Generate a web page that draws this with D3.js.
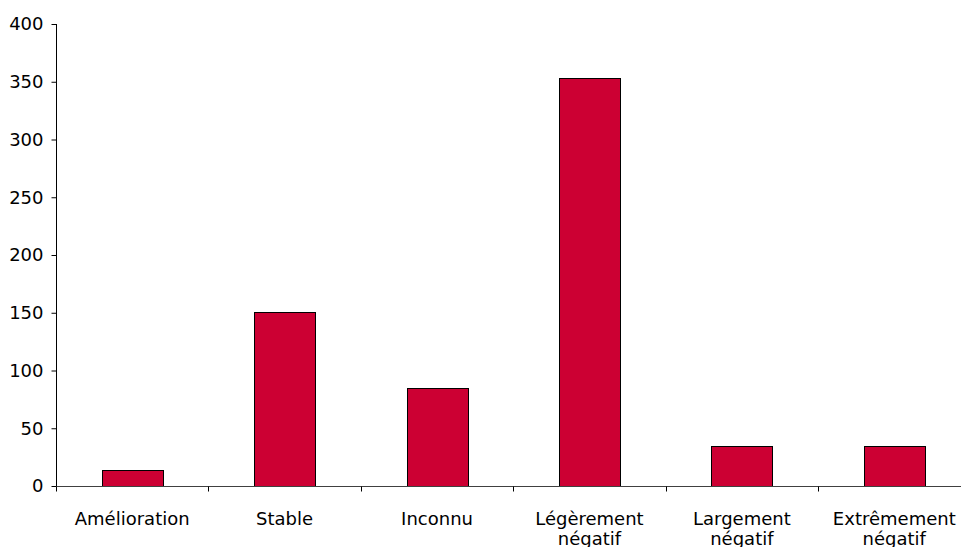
<!DOCTYPE html>
<html>
<head>
<meta charset="utf-8">
<script src="https://cdn.jsdelivr.net/npm/d3@7"></script>
<style>
  html, body { margin: 0; padding: 0; background: #fff; }
  svg { display: block; }
  text { font-family: "DejaVu Sans", Verdana, sans-serif; font-size: 18px; fill: #000; }
</style>
</head>
<body>
<svg id="chart" width="961" height="547"></svg>
<script>
// Category labels (each line as a separate entry) and counts
const categories = [
  ["Amélioration"],
  ["Stable"],
  ["Inconnu"],
  ["Légèrement", "négatif"],
  ["Largement", "négatif"],
  ["Extrêmement", "négatif"]
];
const values = [14, 151, 85, 353, 35, 35];
const yTicks = [0, 50, 100, 150, 200, 250, 300, 350, 400];

const svg = d3.select("#chart");
const plotLeft = 56, plotRight = 970.5, plotTop = 24, plotBottom = 486;

const keys = categories.map(c => c.join(" "));

const x = d3.scaleBand()
  .domain(keys)
  .range([plotLeft, plotRight])
  .paddingInner(0.6)
  .paddingOuter(0.3);

const y = d3.scaleLinear().domain([0, 400]).range([plotBottom, plotTop]);

// Bars
svg.append("g")
  .selectAll("rect")
  .data(values)
  .join("rect")
  .attr("x", (d, i) => Math.round(x(keys[i])) + 0.5)
  .attr("y", d => Math.round(y(d)) + 0.5)
  .attr("width", Math.round(x.bandwidth()))
  .attr("height", d => Math.round(y(0)) - Math.round(y(d)))
  .attr("fill", "#cc0033")
  .attr("stroke", "#000")
  .attr("stroke-width", 1);

// Y axis
const yAxis = d3.axisLeft(y)
  .tickValues(yTicks)
  .tickSize(5)
  .tickPadding(8)
  .tickFormat(d3.format("d"));

const gy = svg.append("g")
  .attr("transform", `translate(${plotLeft + 0.5},0)`)
  .call(yAxis);
gy.select(".domain").attr("stroke", "#000").attr("d", `M0,${plotTop}V${plotBottom}`);
gy.selectAll(".tick line").attr("stroke", "#000");
gy.selectAll(".tick text").style("font-size", "18px").attr("fill", "#000");

// X axis: baseline with ticks between categories
const gx = svg.append("g").attr("transform", `translate(0,${plotBottom + 0.5})`);
gx.append("line")
  .attr("x1", plotLeft).attr("x2", plotRight)
  .attr("stroke", "#404040");

const sepX = i => Math.round(plotLeft + i * x.step()) + 0.5;
gx.selectAll("line.sep")
  .data(d3.range(0, keys.length + 1))
  .join("line")
  .attr("class", "sep")
  .attr("x1", sepX)
  .attr("x2", sepX)
  .attr("y1", 0).attr("y2", 5)
  .attr("stroke", "#000");

// Category labels
const labels = gx.selectAll("text.cat")
  .data(categories)
  .join("text")
  .attr("class", "cat")
  .attr("text-anchor", "middle")
  .attr("x", (d, i) => x(keys[i]) + x.bandwidth() / 2)
  .attr("y", 38);
labels.selectAll("tspan")
  .data(d => d)
  .join("tspan")
  .attr("x", function () { return d3.select(this.parentNode).attr("x"); })
  .attr("dy", (d, i) => i === 0 ? 0 : 20)
  .text(d => d);
</script>
</body>
</html>
